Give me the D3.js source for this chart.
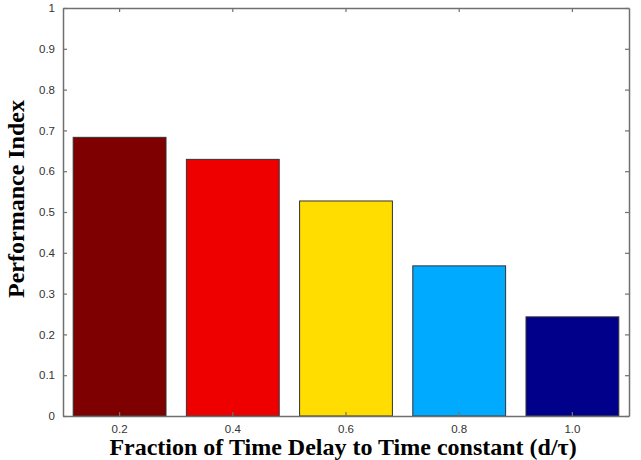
<!DOCTYPE html>
<html><head><meta charset="utf-8">
<script src="https://cdn.jsdelivr.net/npm/d3@7"></script>
<style>body{margin:0;background:#fff}svg{display:block}</style>
</head><body>
<script>
const categories = ["0.2","0.4","0.6","0.8","1.0"];
const values = [0.683, 0.629, 0.527, 0.368, 0.243];
const colors = ["#7f0000","#ee0000","#ffdd00","#00aaff","#00008a"];
const yTicks = [0,0.1,0.2,0.3,0.4,0.5,0.6,0.7,0.8,0.9,1];

const W=641,H=460;
const m={l:63,r:12,t:8,b:44};
const svg=d3.select("body").append("svg").attr("width",W).attr("height",H);
const x=d3.scaleBand().domain(categories).range([m.l,W-m.r]).paddingInner(0.18).paddingOuter(0.09);
const y=d3.scaleLinear().domain([0,1]).range([H-m.b,m.t]);
const axCol="#707070";

svg.append("g").selectAll("rect").data(values).join("rect")
 .attr("x",(d,i)=>x(categories[i])).attr("width",x.bandwidth())
 .attr("y",d=>y(d)).attr("height",d=>y(0)-y(d))
 .attr("fill",(d,i)=>colors[i]).attr("stroke","#333").attr("stroke-width",1);

const fmtY=d=>d===0?"0":d===1?"1":d3.format(".1f")(d);
const gl=svg.append("g").attr("transform",`translate(${m.l},0)`)
 .call(d3.axisLeft(y).tickValues(yTicks).tickFormat(fmtY).tickSizeInner(-4).tickSizeOuter(0).tickPadding(8));
const gr=svg.append("g").attr("transform",`translate(${W-m.r},0)`)
 .call(d3.axisRight(y).tickValues(yTicks).tickFormat("").tickSizeInner(-4).tickSizeOuter(0));
const gb=svg.append("g").attr("transform",`translate(0,${H-m.b})`)
 .call(d3.axisBottom(x).tickSizeInner(-4).tickSizeOuter(0).tickPadding(9));
const gt=svg.append("g").attr("transform",`translate(0,${m.t})`)
 .call(d3.axisTop(x).tickFormat("").tickSizeInner(-4).tickSizeOuter(0));
[gl,gr,gb,gt].forEach(g=>{
 g.select(".domain").attr("stroke",axCol).attr("stroke-width",1.5);
 g.selectAll(".tick line").attr("stroke",axCol).attr("stroke-width",1.2);
 g.selectAll("text").attr("fill","#333").style("font-family","Liberation Sans, Arial, sans-serif").style("font-size","11.5px");
});

svg.append("text").attr("x",343).attr("y",455).attr("text-anchor","middle")
 .style("font-family","Liberation Serif, Times New Roman, serif").style("font-weight","bold").style("font-size","24px")
 .text("Fraction of Time Delay to Time constant (d/τ)");
svg.append("text").attr("transform","translate(24,199) rotate(-90)").attr("text-anchor","middle")
 .style("font-family","Liberation Serif, Times New Roman, serif").style("font-weight","bold").style("font-size","24px")
 .text("Performance Index");
</script>
</body></html>
